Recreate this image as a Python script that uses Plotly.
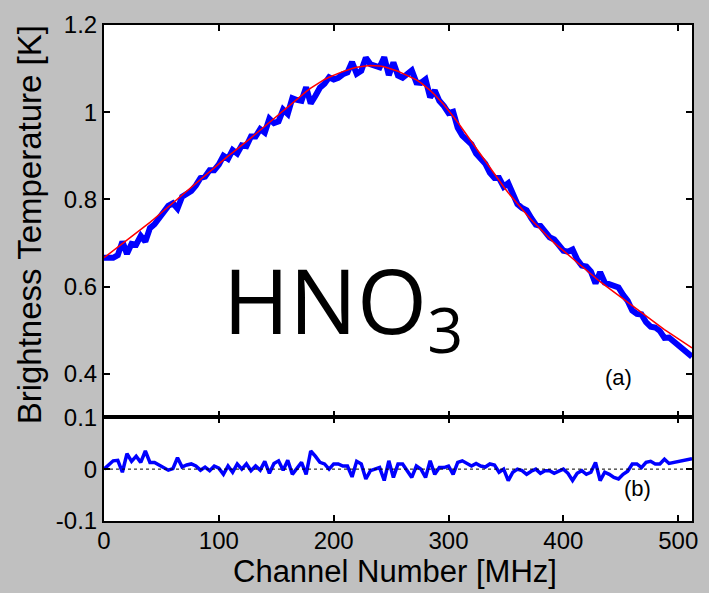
import plotly.graph_objects as go

channel = list(range(0, 513, 4))

fit = [
    0.666, 0.674, 0.682, 0.689, 0.697, 0.705, 0.713, 0.721, 0.729, 0.738,
    0.747, 0.756, 0.765, 0.774, 0.783, 0.792, 0.801, 0.810, 0.819, 0.829,
    0.838, 0.847, 0.856, 0.864, 0.873, 0.882, 0.890, 0.899, 0.907, 0.915,
    0.924, 0.932, 0.941, 0.950, 0.959, 0.968, 0.977, 0.986, 0.995, 1.004,
    1.013, 1.022, 1.031, 1.039, 1.047, 1.055, 1.062, 1.069, 1.075, 1.080,
    1.085, 1.089, 1.093, 1.097, 1.100, 1.103, 1.105, 1.106, 1.107, 1.107,
    1.106, 1.104, 1.101, 1.098, 1.094, 1.089, 1.084, 1.080, 1.074, 1.067,
    1.059, 1.050, 1.040, 1.029, 1.017, 1.004, 0.991, 0.977, 0.962, 0.947,
    0.932, 0.916, 0.901, 0.886, 0.871, 0.857, 0.843, 0.829, 0.815, 0.802,
    0.789, 0.777, 0.765, 0.753, 0.742, 0.731, 0.720, 0.710, 0.700, 0.691,
    0.682, 0.672, 0.663, 0.654, 0.645, 0.636, 0.628, 0.620, 0.611, 0.603,
    0.595, 0.587, 0.579, 0.571, 0.563, 0.555, 0.547, 0.539, 0.531, 0.523,
    0.516, 0.508, 0.501, 0.494, 0.487, 0.480, 0.473, 0.466, 0.459,
]

brightness = [
    0.666, 0.666, 0.666, 0.672, 0.703, 0.675, 0.698, 0.696, 0.716, 0.703,
    0.734, 0.743, 0.757, 0.770, 0.785, 0.791, 0.779, 0.806, 0.811, 0.819,
    0.832, 0.849, 0.852, 0.867, 0.867, 0.880, 0.900, 0.893, 0.913, 0.905,
    0.924, 0.922, 0.944, 0.944, 0.961, 0.953, 0.985, 0.975, 0.979, 1.006,
    0.996, 1.032, 1.028, 1.026, 1.057, 1.020, 1.037, 1.056, 1.065, 1.080,
    1.075, 1.079, 1.087, 1.091, 1.115, 1.088, 1.095, 1.125, 1.110, 1.107,
    1.103, 1.126, 1.085, 1.114, 1.084, 1.079, 1.087, 1.096, 1.068, 1.067,
    1.075, 1.034, 1.050, 1.026, 1.014, 0.998, 1.001, 0.964, 0.946, 0.936,
    0.926, 0.905, 0.895, 0.882, 0.861, 0.849, 0.849, 0.829, 0.837, 0.808,
    0.789, 0.780, 0.775, 0.757, 0.742, 0.739, 0.723, 0.713, 0.708, 0.695,
    0.682, 0.680, 0.685, 0.662, 0.648, 0.646, 0.634, 0.607, 0.633, 0.609,
    0.605, 0.603, 0.598, 0.581, 0.567, 0.545, 0.537, 0.536, 0.518, 0.508,
    0.506, 0.498, 0.482, 0.483, 0.474, 0.465, 0.457, 0.448, 0.439,
]

residual = [
    0.000, 0.008, 0.016, 0.017, -0.006, 0.030, 0.015, 0.025, 0.013, 0.035,
    0.013, 0.013, 0.008, 0.004, -0.002, 0.001, 0.022, 0.004, 0.008, 0.010,
    0.006, -0.002, 0.004, -0.003, 0.006, 0.002, -0.010, 0.006, -0.006, 0.010,
    0.000, 0.010, -0.003, 0.006, -0.002, 0.015, -0.008, 0.011, 0.016, -0.002,
    0.017, -0.010, 0.003, 0.013, -0.010, 0.035, 0.025, 0.013, 0.010, 0.000,
    0.010, 0.010, 0.006, 0.006, -0.015, 0.015, 0.010, -0.019, -0.003, 0.000,
    0.003, -0.022, 0.016, -0.016, 0.010, 0.010, -0.003, -0.016, 0.006, 0.000,
    -0.016, 0.016, -0.010, 0.003, 0.003, 0.006, -0.010, 0.013, 0.016, 0.011,
    0.006, 0.011, 0.006, 0.004, 0.010, 0.008, -0.006, 0.000, -0.022, -0.006,
    0.000, -0.003, -0.010, -0.004, 0.000, -0.008, -0.003, -0.003, -0.008, -0.004,
    0.000, -0.008, -0.022, -0.008, -0.003, -0.010, -0.006, 0.013, -0.022, -0.006,
    -0.010, -0.016, -0.019, -0.010, -0.004, 0.010, 0.010, 0.003, 0.013, 0.015,
    0.010, 0.010, 0.019, 0.011, 0.013, 0.015, 0.016, 0.018, 0.020,
]

x_ticks = [0, 100, 200, 300, 400, 500]
top_y_ticks = [0.4, 0.6, 0.8, 1, 1.2]
bottom_y_ticks = [-0.1, 0, 0.1]

FONT = "Liberation Sans, Arial, sans-serif"
tick_font = dict(family=FONT, size=24, color="black")

fig = go.Figure()

fig.add_trace(go.Scatter(x=channel, y=brightness, xaxis="x2", yaxis="y2",
                         mode="lines", line=dict(color="#0000ff", width=6),
                         showlegend=False))
fig.add_trace(go.Scatter(x=channel, y=fit, xaxis="x2", yaxis="y2",
                         mode="lines", line=dict(color="#ff0000", width=1.5),
                         showlegend=False))
fig.add_trace(go.Scatter(x=channel, y=residual, xaxis="x", yaxis="y",
                         mode="lines", line=dict(color="#0000ff", width=3.5),
                         showlegend=False))

ax_common = dict(showline=True, linecolor="black", linewidth=2, mirror="ticks",
                 ticks="inside", ticklen=6, tickwidth=1.5, tickcolor="black",
                 showgrid=False, zeroline=False, tickfont=tick_font)

bot_frac = 105 / 502

fig.update_layout(
    width=709, height=593,
    margin=dict(l=104, r=11, t=19, b=72),
    paper_bgcolor="#c0c0c0", plot_bgcolor="white",
    xaxis=dict(domain=[0, 1], anchor="y", range=[0, 512], tickvals=x_ticks,
               ticktext=[str(v) for v in x_ticks], ticklabelstandoff=-3, **ax_common),
    xaxis2=dict(domain=[0, 1], anchor="y2", range=[0, 512], tickvals=x_ticks,
                showticklabels=False, matches="x", **ax_common),
    yaxis=dict(domain=[0, bot_frac], anchor="x", range=[-0.1, 0.1],
               tickvals=bottom_y_ticks, ticktext=["-0.1", "0", "0.1"], **ax_common),
    yaxis2=dict(domain=[bot_frac, 1], anchor="x2", range=[0.3, 1.2],
                tickvals=top_y_ticks, ticktext=["0.4", "0.6", "0.8", "1", "1.2"],
                **ax_common),
    shapes=[dict(type="line", xref="x domain", yref="y", x0=0, x1=1, y0=0, y1=0,
                 line=dict(color="black", width=1, dash="dot"))],
    annotations=[
        dict(text="Brightness Temperature [K]", textangle=-90, xref="paper", yref="paper",
             x=(29 - 104) / 594, y=(521 - 221) / 502, xanchor="center", yanchor="middle",
             showarrow=False, font=dict(family=FONT, size=33, color="black")),
        dict(text="Channel Number [MHz]", xref="paper", yref="paper",
             x=(398 - 104) / 594, y=(521 - 592) / 502, xanchor="center", yanchor="bottom",
             showarrow=False, font=dict(family=FONT, size=31, color="black")),
        dict(text="HNO<sub>3</sub>", xref="paper", yref="paper",
             x=(222 - 104) / 594, y=(521 - 302) / 502, xanchor="left", yanchor="middle",
             showarrow=False, font=dict(family="Open Sans, sans-serif", size=90, color="black")),
        dict(text="(a)", xref="paper", yref="paper",
             x=(624 - 104) / 594, y=(521 - 376) / 502, xanchor="center", yanchor="middle",
             showarrow=False, font=dict(family=FONT, size=22, color="black")),
        dict(text="(b)", xref="paper", yref="paper",
             x=(643 - 104) / 594, y=(521 - 488) / 502, xanchor="center", yanchor="middle",
             showarrow=False, font=dict(family=FONT, size=22, color="black")),
    ],
)

fig.write_html("out.html")
